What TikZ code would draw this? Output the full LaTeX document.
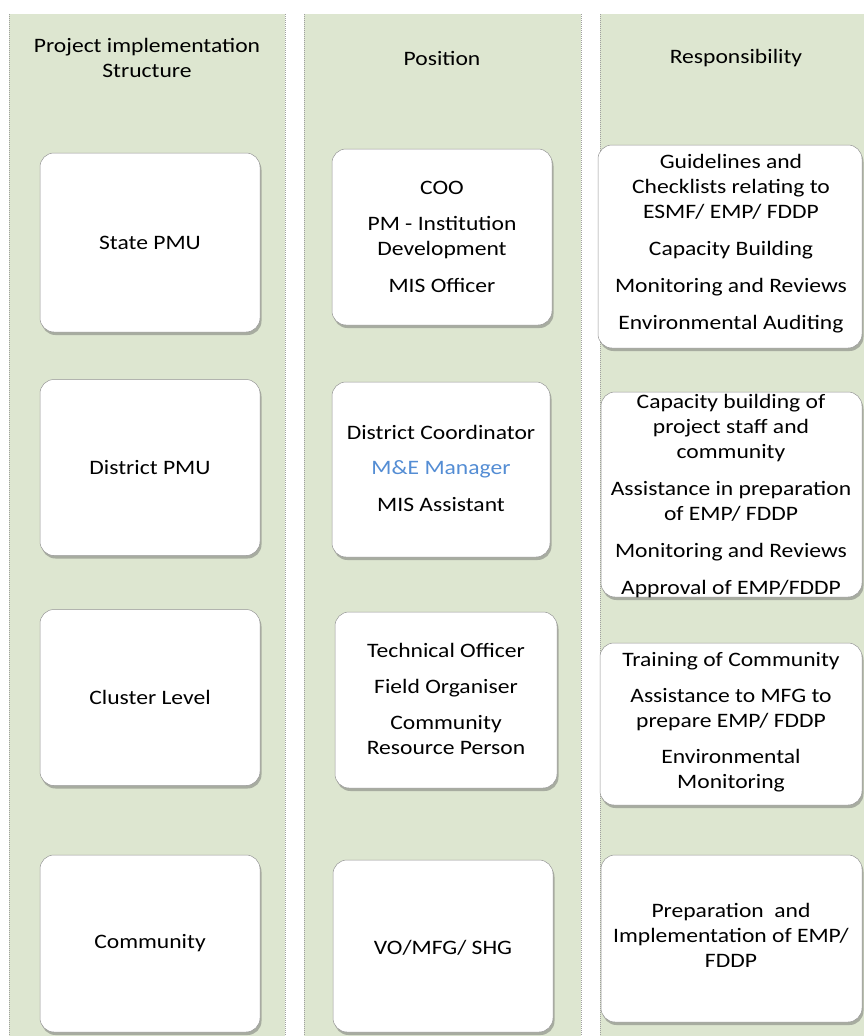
\documentclass[tikz,border=0pt]{standalone}
\usepackage{fontspec}
\setmainfont{Carlito}[FakeStretch=1.15]
\usetikzlibrary{shadows}
\definecolor{colfill}{RGB}{221,230,208}
\definecolor{coledge}{RGB}{160,160,160}
\definecolor{boxedge}{RGB}{150,150,150}
\definecolor{accentblue}{RGB}{84,141,212}
\tikzset{
  colbg/.style={fill=colfill, draw=none},
  coledge/.style={draw=coledge, line width=0.9pt, dash pattern=on 1pt off 1pt},
  card/.style={draw=boxedge, line width=0.5pt, fill=white, rounded corners=14pt,
    inner sep=0pt, align=center, font=\fontsize{20.5}{25}\selectfont,
    drop shadow={shadow xshift=1.5pt, shadow yshift=-3pt, opacity=0.45, fill=black!60}},
  label/.style={align=center, inner sep=0pt, font=\fontsize{20.5}{25}\selectfont},
}
\begin{document}
\begin{tikzpicture}[x=1pt,y=-1pt]
\useasboundingbox (0,0) rectangle (863,1036);
\fill[white] (0,0) rectangle (863,1036);

% three column bands
\fill[colbg] (9,14) rectangle (285,1040);
\fill[colbg] (304,14) rectangle (581,1040);
\fill[colbg] (600,14) rectangle (880,1040);
\foreach \x in {9,285,304,581,600}
  \draw[coledge] (\x,14) -- (\x,1040);

% column headings
\node[label] (h1) at (147,58) {Project implementation\\Structure};
\node[label] (h2) at (442,58) {Position};
\node[label] (h3) at (736,58) {Responsibility};

% implementation structure
\node[card, minimum width=220pt, minimum height=179pt] (c1a) at (150,242.5) {State PMU};
\node[card, minimum width=220pt, minimum height=176pt] (c1b) at (150,467.5) {District PMU};
\node[card, minimum width=220pt, minimum height=176pt] (c1c) at (150,697.5) {Cluster Level};
\node[card, minimum width=220pt, minimum height=177pt] (c1d) at (150,943.5) {Community};

% positions
\node[card, minimum width=220pt, minimum height=176pt] (c2a) at (442,237) {};
\node[card, minimum width=218pt, minimum height=175pt] (c2b) at (441,469.5) {};
\node[card, minimum width=222pt, minimum height=176pt] (c2c) at (446,700) {};
\node[card, minimum width=220pt, minimum height=172pt] (c2d) at (443,946) {};

\node[label] (t2a) at (c2a.center) [yshift=0.5pt] {COO\\[11pt]PM - Institution\\Development\\[12pt]MIS Officer};
\node[label] (t2b) at (c2b.center) [yshift=1.5pt] {District Coordinator\\[10pt]{\color{accentblue}M\&E Manager}\\[12pt]MIS Assistant};
\node[label] (t2c) at (c2c.center) [yshift=1pt] {Technical Officer\\[11pt]Field Organiser\\[11pt]Community\\Resource Person};
\node[label] (t2d) at (c2d.center) [yshift=-2pt] {VO/MFG/ SHG};

% responsibilities
\node[card, minimum width=264pt, minimum height=203pt] (c3a) at (730,246.5) {};
\node[card, minimum width=261pt, minimum height=205pt] (c3b) at (731.5,494.5) {};
\node[card, minimum width=262pt, minimum height=162pt] (c3c) at (731,724) {};
\node[card, minimum width=261pt, minimum height=167pt] (c3d) at (731.5,938.5) {};

\node[label] (t3a) at (731,243.5) {Guidelines and\\Checklists relating to\\ESMF/ EMP/ FDDP\\[12pt]Capacity Building\\[12pt]Monitoring and Reviews\\[12pt]Environmental Auditing};
\node[label] (t3b) at (731,496) {Capacity building of\\project staff and\\community\\[12pt]Assistance in preparation\\of EMP/ FDDP\\[12pt]Monitoring and Reviews\\[12pt]Approval of EMP/FDDP};
\node[label] (t3c) at (731,722.5) {Training of Community\\[11pt]Assistance to MFG to\\prepare EMP/ FDDP\\[11pt]Environmental\\Monitoring};
\node[label] (t3d) at (731,935) {Preparation\ \ and\\Implementation of EMP/\\FDDP};
\end{tikzpicture}
\end{document}
